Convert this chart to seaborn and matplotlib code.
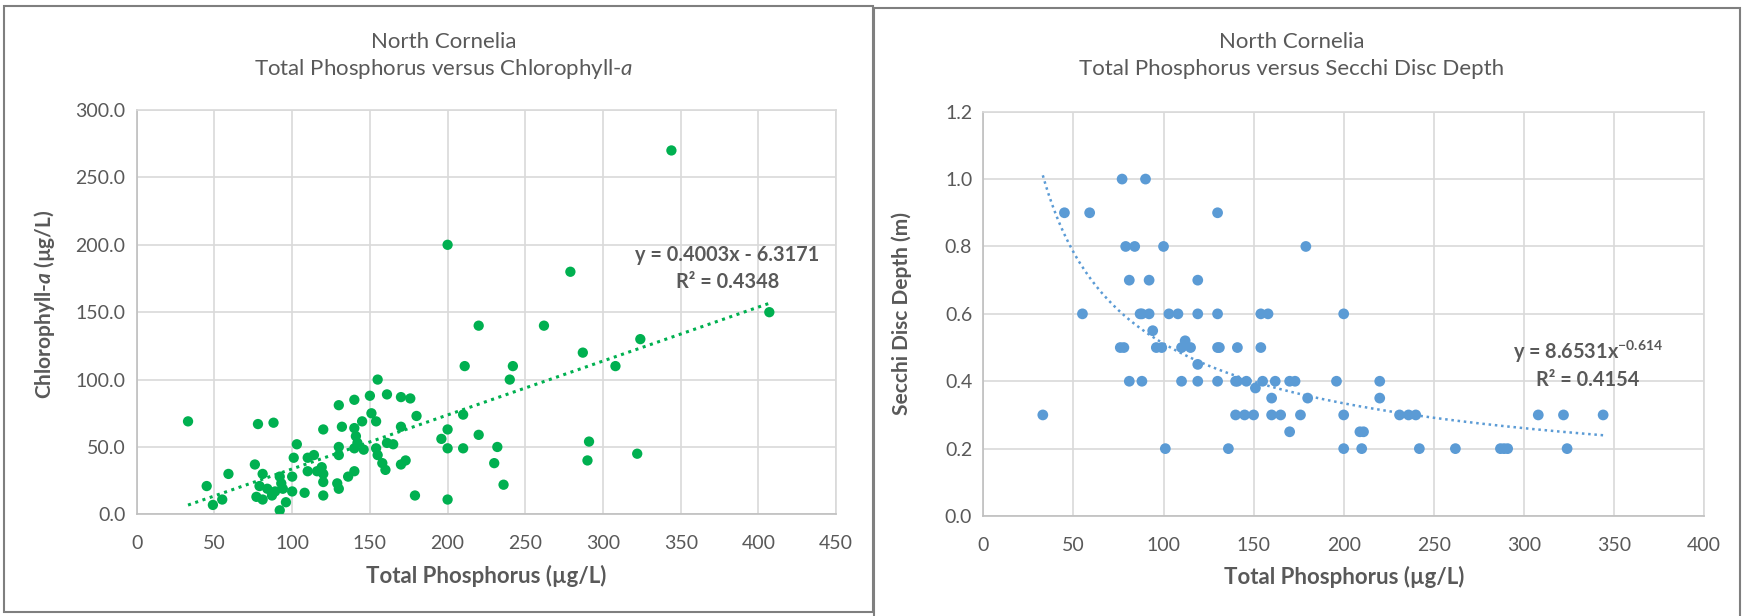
import numpy as np
import seaborn as sns
import matplotlib.pyplot as plt
from matplotlib.patches import Rectangle

# Chlorophyll-a panel
tp_chl = [33, 45, 49, 55, 59, 76, 78, 88, 81, 79, 77, 81, 84, 87, 89, 92, 93, 94, 92, 96,
          100, 100, 101, 103, 108, 110, 114, 110, 116, 119, 120, 120, 120, 120, 130, 132, 130, 130,
          129, 130, 136, 140, 140, 140, 141, 140, 142, 146, 145, 150, 151, 154, 155, 154, 155, 158,
          160, 161, 161, 165, 170, 176, 170, 170, 173, 180, 179, 200, 200, 196, 200, 200,
          344, 279, 220, 262, 407, 324, 287, 211, 242, 240, 308, 210, 210, 220, 232, 230, 236,
          291, 290, 322]
chl = [69, 21, 7, 11, 30, 37, 67, 68, 30, 21, 13, 11, 19, 14, 17, 28, 23, 19, 3, 9,
       17, 28, 42, 52, 16, 42, 44, 32, 32, 35, 30, 24, 14, 63, 81, 65, 50, 44,
       23, 19, 28, 32, 85, 64, 58, 49, 53, 48, 69, 88, 75, 69, 100, 49, 44, 38,
       33, 89, 53, 52, 87, 86, 65, 37, 40, 73, 14, 200, 63, 56, 49, 11,
       270, 180, 140, 140, 150, 130, 120, 110, 110, 100, 110, 74, 49, 59, 50, 38, 22,
       54, 40, 45]

# Secchi panel
tp_sec = [77, 90, 45, 59, 130, 79, 84, 100, 179, 81, 92, 119,
          55, 87, 88, 92, 103, 108, 119, 130, 154, 158, 200,
          94, 76, 78, 96, 99, 110, 112, 115, 130, 131, 141, 154,
          119, 81, 88, 110, 119, 130, 140, 141, 146, 155, 162, 170, 173, 196, 220,
          151, 160, 180, 220,
          33, 140, 145, 150, 160, 165, 176, 200, 231, 236, 240, 308, 322, 344,
          170, 209, 211,
          101, 136, 200, 210, 242, 262, 287, 289, 291, 324]
secchi = [1.0, 1.0, 0.9, 0.9, 0.9, 0.8, 0.8, 0.8, 0.8, 0.7, 0.7, 0.7,
          0.6, 0.6, 0.6, 0.6, 0.6, 0.6, 0.6, 0.6, 0.6, 0.6, 0.6,
          0.55, 0.5, 0.5, 0.5, 0.5, 0.5, 0.52, 0.5, 0.5, 0.5, 0.5, 0.5,
          0.45, 0.4, 0.4, 0.4, 0.4, 0.4, 0.4, 0.4, 0.4, 0.4, 0.4, 0.4, 0.4, 0.4, 0.4,
          0.38, 0.35, 0.35, 0.35,
          0.3, 0.3, 0.3, 0.3, 0.3, 0.3, 0.3, 0.3, 0.3, 0.3, 0.3, 0.3, 0.3, 0.3,
          0.25, 0.25, 0.25,
          0.2, 0.2, 0.2, 0.2, 0.2, 0.2, 0.2, 0.2, 0.2, 0.2]

lin_slope, lin_icpt = 0.4003, -6.3171
pow_a, pow_b = 8.6531, -0.614

sns.set_theme(style='white')
plt.rcParams['font.family'] = ['Lato', 'DejaVu Sans']
plt.rcParams['mathtext.fontset'] = 'custom'
plt.rcParams['mathtext.it'] = 'Lato:italic'
plt.rcParams['mathtext.bf'] = 'Lato:italic:bold'
plt.rcParams['mathtext.default'] = 'regular'

grey = '#595959'
green = '#00B050'
blue = '#5B9BD5'

fig = plt.figure(figsize=(17.42, 6.16), dpi=100)
ax1 = fig.add_axes([0.0785, 0.165, 0.4015, 0.6564])
ax2 = fig.add_axes([0.5645, 0.1623, 0.4137, 0.6564])

# panel frames
fig.patches.append(Rectangle((4/1742, 1-612/616), 869/1742, 606/616, transform=fig.transFigure,
                             fill=False, edgecolor='#7f7f7f', lw=1.5))
fig.patches.append(Rectangle((874/1742, 1-620/616), 866/1742, 612/616, transform=fig.transFigure,
                             fill=False, edgecolor='#7f7f7f', lw=1.5))

sns.scatterplot(x=tp_chl, y=chl, ax=ax1, color=green, s=55, edgecolor='none', zorder=3)
xl = np.array([min(tp_chl), max(tp_chl)])
ax1.plot(xl, lin_slope * xl + lin_icpt, color=green, ls=(0, (1, 1.5)), lw=2.2, zorder=2)

sns.scatterplot(x=tp_sec, y=secchi, ax=ax2, color=blue, s=60, edgecolor='none', zorder=3)
xp = np.linspace(min(tp_sec), max(tp_sec), 200)
ax2.plot(xp, pow_a * xp ** pow_b, color=blue, ls=(0, (1, 1.5)), lw=1.8, zorder=2)

ax1.set_xlim(0, 450)
ax1.set_ylim(0, 300)
ax1.set_xticks(range(0, 451, 50))
ax1.set_yticks(range(0, 301, 50))
ax1.set_yticklabels([f'{v:.1f}' for v in range(0, 301, 50)])

ax2.set_xlim(0, 400)
ax2.set_ylim(0, 1.2)
ax2.set_xticks(range(0, 401, 50))
yt = np.arange(0, 1.21, 0.2)
ax2.set_yticks(yt)
ax2.set_yticklabels([f'{v:.1f}' for v in yt])

for ax in (ax1, ax2):
    ax.grid(True, color='#D9D9D9', lw=1.2)
    ax.set_axisbelow(True)
    for s in ax.spines.values():
        s.set_color('#D9D9D9')
        s.set_linewidth(1.2)
    ax.spines['left'].set_color('#BFBFBF')
    ax.spines['bottom'].set_color('#BFBFBF')
    ax.tick_params(length=0, labelsize=14, labelcolor=grey)
    ax.tick_params(axis='x', pad=15)
    ax.tick_params(axis='y', pad=8)
    ax.set_xlabel('Total Phosphorus (µg/L)', fontsize=16, fontweight='bold', color=grey, labelpad=9)

ax1.set_ylabel(r'Chlorophyll-$\mathbf{a}$ (µg/L)', fontsize=15, fontweight='bold', color=grey)
ax2.set_ylabel('Secchi Disc Depth (m)', fontsize=15, fontweight='bold', color=grey)
ax1.yaxis.set_label_coords(-0.114, 0.52)
ax2.yaxis.set_label_coords(-0.099, 0.5)

# titles centred on each chart panel
fig.text(444/1742, 1-42/616, 'North Cornelia', ha='center', va='center',
         fontsize=16, color=grey)
fig.text(444/1742, 1-69/616, 'Total Phosphorus versus Chlorophyll-$\\mathit{a}$', ha='center', va='center',
         fontsize=16, color=grey)
fig.text(1292/1742, 1-42/616, 'North Cornelia', ha='center', va='center',
         fontsize=16, color=grey)
fig.text(1292/1742, 1-69/616, 'Total Phosphorus versus Secchi Disc Depth', ha='center', va='center',
         fontsize=16, color=grey)

ax1.text(380, 182.5, f'y = {lin_slope}x - {abs(lin_icpt)}\nR² = 0.4348', ha='center', va='center',
         fontsize=14.3, fontweight='bold', color=grey, linespacing=1.4)
ax2.text(335.5, 0.45, f'y = {pow_a}x$^{{{pow_b}}}$\nR² = 0.4154', ha='center', va='center',
         fontsize=14.3, fontweight='bold', color=grey, linespacing=1.3)

fig.savefig('out.png', dpi=100)
